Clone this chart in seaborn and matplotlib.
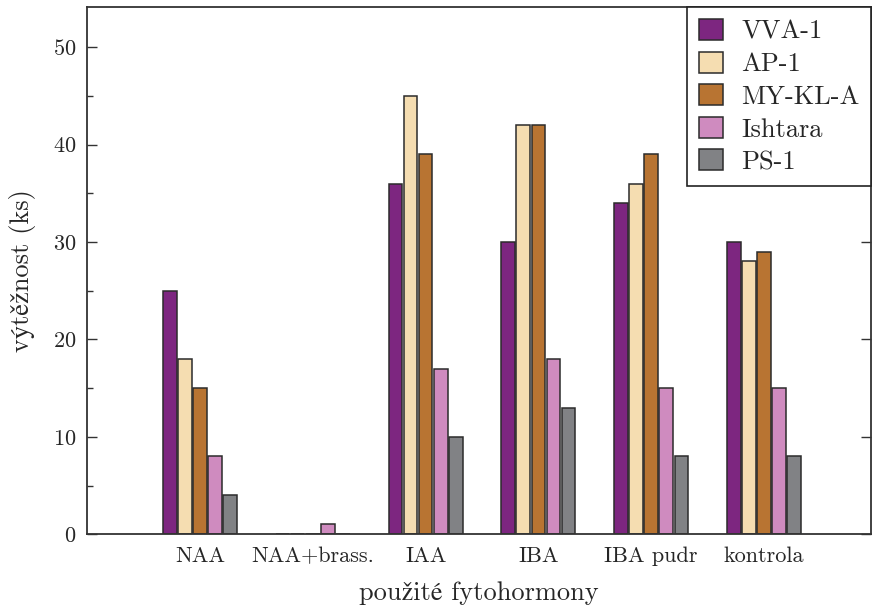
import matplotlib
matplotlib.use("Agg")
import matplotlib.pyplot as plt
import seaborn as sns
import pandas as pd
from matplotlib.ticker import MultipleLocator

categories = ["NAA", "NAA+brass.", "IAA", "IBA", "IBA pudr", "kontrola"]
series_names = ["VVA-1", "AP-1", "MY-KL-A", "Ishtara", "PS-1"]
vva1 = [25, 0, 36, 30, 34, 30]
ap1 = [18, 0, 45, 42, 36, 28]
mykla = [15, 0, 39, 42, 39, 29]
ishtara = [8, 1, 17, 18, 15, 15]
ps1 = [4, 0, 10, 13, 8, 8]
colors = ["#7D2680", "#F5DDB1", "#B87432", "#CF8BBF", "#818285"]

values = [vva1, ap1, mykla, ishtara, ps1]
rows = []
for name, vals in zip(series_names, values):
    for c, v in zip(categories, vals):
        rows.append({"kategorie": c, "odrůda": name, "hodnota": v})
df = pd.DataFrame(rows)

sns.set_theme(style="white")
plt.rcParams["font.family"] = ["cmr10", "STIXGeneral"]
plt.rcParams["mathtext.fontset"] = "cm"
plt.rcParams["axes.formatter.use_mathtext"] = True

fig, ax = plt.subplots(figsize=(8.72, 6.05), dpi=100)
sns.barplot(data=df, x="kategorie", y="hodnota", hue="odrůda",
            order=categories, hue_order=series_names, palette=colors,
            width=0.67, gap=0.1, edgecolor="#2b2b2b", linewidth=1.1,
            saturation=1, ax=ax, errorbar=None)

ax.set_xlim(-1.0, 5.95)
ax.set_ylim(0, 54.1)
ax.yaxis.set_major_locator(MultipleLocator(10))
ax.yaxis.set_minor_locator(MultipleLocator(5))
ax.tick_params(axis="y", which="major", direction="in", length=7, width=1,
               color="#333333", left=True, right=True, labelsize=16, pad=8)
ax.tick_params(axis="y", which="minor", direction="in", length=4, width=1,
               color="#333333", left=True, right=False)
ax.tick_params(axis="x", which="both", bottom=False, top=False, labelsize=16, pad=3)
for s in ax.spines.values():
    s.set_visible(True)
    s.set_color("#333333")
    s.set_linewidth(1.3)

ax.set_xlabel("použité fytohormony", fontsize=19, labelpad=11)
ax.set_ylabel("výtěžnost (ks)", fontsize=19, labelpad=12)

leg = ax.legend(loc="upper right", fontsize=19, frameon=True, fancybox=False,
                edgecolor="#222222", framealpha=1, borderaxespad=0,
                handlelength=0.9, handleheight=0.85, handletextpad=0.7,
                labelspacing=0.3, borderpad=0.45)
leg.get_frame().set_linewidth(1.2)
leg.set_title(None)

fig.subplots_adjust(left=0.1, right=0.999, top=0.988, bottom=0.117)
fig.savefig("out.png", dpi=100)
